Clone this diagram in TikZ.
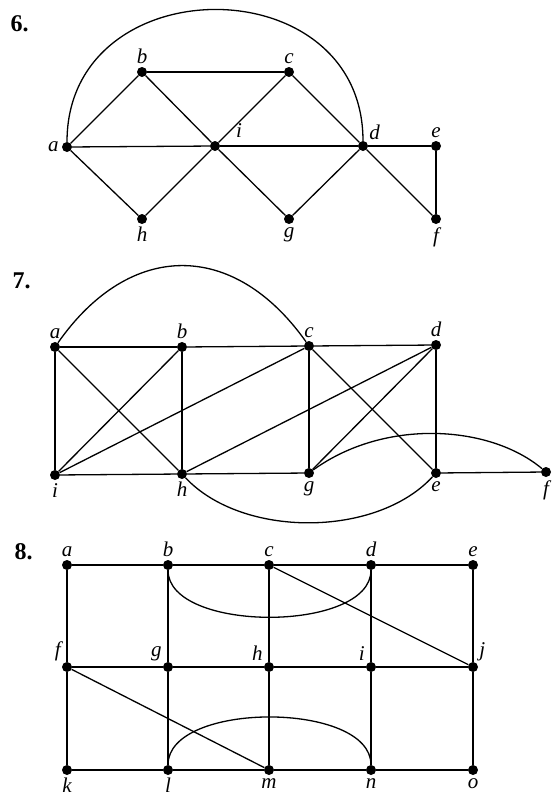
\documentclass[tikz,border=0pt]{standalone}
\usepackage{fontspec}
\setmainfont{Liberation Serif}
\usetikzlibrary{positioning}

\begin{document}
\begin{tikzpicture}[x=1pt,y=-1pt,
  vtx/.style={circle,fill=black,inner sep=0pt,minimum size=10pt},
  lbl/.style={font=\fontsize{21}{23}\selectfont\itshape,inner sep=1pt},
  edge/.style={line width=1.3pt},
  num/.style={font=\fontsize{24}{26}\selectfont\bfseries,anchor=base west},
  label distance=2pt
]
  \useasboundingbox (0,0) rectangle (553,796);
  % Graph 6
  \node[num] (n6) at (7,31) {6.};
  \node[vtx,label={[lbl]left:a}] (a6) at (67,147) {};
  \node[vtx,label={[lbl]above:b}] (b6) at (142,72) {};
  \node[vtx,label={[lbl]above:c}] (c6) at (289,72) {};
  \node[vtx,label={[lbl,label distance=16pt]20:i}] (i6) at (215,146) {};
  \node[vtx,label={[lbl]45:d}] (d6) at (363,146) {};
  \node[vtx,label={[lbl]above:e}] (e6) at (436,146) {};
  \node[vtx,label={[lbl]below:h}] (h6) at (142,219) {};
  \node[vtx,label={[lbl]below:g}] (g6) at (289,219) {};
  \node[vtx,label={[lbl]below:f}] (f6) at (436,219) {};
  \foreach \u/\v in {a6/b6,b6/c6,b6/i6,c6/i6,c6/d6,a6/i6,i6/d6,d6/e6,e6/f6,d6/f6,
                     a6/h6,h6/i6,i6/g6,g6/d6}
    \draw[edge] (\u) -- (\v);
  \draw[edge] (a6) .. controls +(0,-181) and +(0,-181) .. (d6);
  % Graph 7
  \node[num] (n7) at (9,288) {7.};
  \node[vtx,label={[lbl]above:a}] (a7) at (55,347) {};
  \node[vtx,label={[lbl]above:b}] (b7) at (182,347) {};
  \node[vtx,label={[lbl]above:c}] (c7) at (309,346) {};
  \node[vtx,label={[lbl]above:d}] (d7) at (436,345) {};
  \node[vtx,label={[lbl]below:i}] (i7) at (55,475) {};
  \node[vtx,label={[lbl]below:h}] (h7) at (182,474) {};
  \node[vtx,label={[lbl]below:g}] (g7) at (309,473) {};
  \node[vtx,label={[lbl]below:e}] (e7) at (436,473) {};
  \node[vtx,label={[lbl]below:f}] (f7) at (546,472) {};
  \foreach \u/\v in {a7/b7,b7/c7,c7/d7,a7/i7,b7/h7,c7/g7,d7/e7,i7/h7,h7/g7,e7/f7,
                     a7/h7,i7/b7,i7/c7,h7/d7,c7/e7,g7/d7}
    \draw[edge] (\u) -- (\v);
  \draw[edge] (a7) .. controls (130,240) and (234,240) .. (c7);
  \draw[edge] (h7) .. controls (242,538) and (376,538) .. (e7);
  \draw[edge] (g7) .. controls (385,418) and (490,425) .. (f7);
  % Graph 8
  \node[num] (n8) at (11,559) {8.};
  \node[vtx,label={[lbl]above:a}] (a8) at (67,565) {};
  \node[vtx,label={[lbl]above:b}] (b8) at (168,565) {};
  \node[vtx,label={[lbl]above:c}] (c8) at (269,565) {};
  \node[vtx,label={[lbl]above:d}] (d8) at (371,565) {};
  \node[vtx,label={[lbl]above:e}] (e8) at (473,565) {};
  \node[vtx,label={[lbl]135:f}] (f8) at (67,667) {};
  \node[vtx,label={[lbl]135:g}] (g8) at (168,667) {};
  \node[vtx,label={[lbl]135:h}] (h8) at (269,667) {};
  \node[vtx,label={[lbl]135:i}] (i8) at (371,667) {};
  \node[vtx,label={[lbl]45:j}] (j8) at (473,667) {};
  \node[vtx,label={[lbl]below:k}] (k8) at (67,770) {};
  \node[vtx,label={[lbl]below:l}] (l8) at (168,770) {};
  \node[vtx,label={[lbl]below:m}] (m8) at (269,770) {};
  \node[vtx,label={[lbl]below:n}] (n8v) at (371,770) {};
  \node[vtx,label={[lbl]below:o}] (o8) at (473,770) {};
  \foreach \u/\v in {a8/b8,b8/c8,c8/d8,d8/e8,f8/g8,g8/h8,h8/i8,i8/j8,
                     k8/l8,l8/m8,m8/n8v,n8v/o8,a8/f8,f8/k8,b8/g8,g8/l8,
                     c8/h8,h8/m8,d8/i8,i8/n8v,e8/j8,j8/o8,c8/j8,f8/m8}
    \draw[edge] (\u) -- (\v);
  \draw[edge] (b8) .. controls +(0,68) and +(0,68) .. (d8);
  \draw[edge] (l8) .. controls +(0,-69) and +(0,-69) .. (n8v);
\end{tikzpicture}
\end{document}
